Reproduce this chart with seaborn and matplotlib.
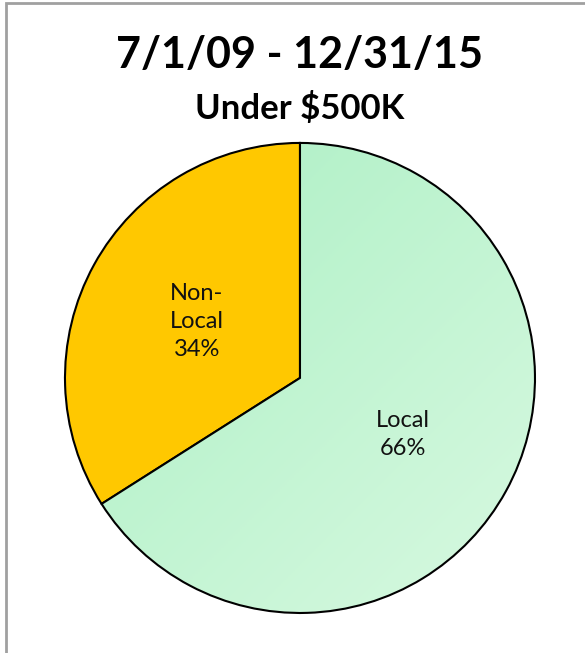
import numpy as np
import matplotlib
matplotlib.use("Agg")
import matplotlib.pyplot as plt
import seaborn as sns
from matplotlib.colors import LinearSegmentedColormap
from matplotlib.patches import Rectangle

# data
categories = ["Local", "Non-Local"]
shares = [66, 34]
slice_labels = ["Local", "Non-\nLocal"]
title_text = "7/1/09 - 12/31/15"
subtitle_text = "Under $500K"

sns.set_theme(style="white")
plt.rcParams["font.family"] = ["Lato", "DejaVu Sans"]

fig = plt.figure(figsize=(5.85, 6.53), dpi=100)
ax = fig.add_axes([0.1111, 0.0613, 0.8034, 0.7198])

label_iter = iter(slice_labels)
def fmt(pct):
    return f"{next(label_iter)}\n{pct:.0f}%"

wedges, _, autotexts = ax.pie(
    shares,
    colors=["#BDF4CE", "#FFC800"],
    startangle=90,
    counterclock=False,
    autopct=fmt,
    pctdistance=0.5,
    wedgeprops=dict(edgecolor="black", linewidth=1.5),
    textprops=dict(fontsize=17, color="#111111", linespacing=1.4),
)
ax.set_xlim(-1, 1)
ax.set_ylim(-1, 1)
ax.set_aspect("auto")

# light green gradient for Local slice (darker top-left, lighter bottom-right)
cmap = LinearSegmentedColormap.from_list("grn", ["#A9EFC2", "#D8F9E1"])
gx, gy = np.meshgrid(np.linspace(0, 1, 200), np.linspace(0, 1, 200))
grad = (gx + gy) / 2
img = ax.imshow(grad, cmap=cmap, extent=(-1, 1, -1, 1), origin="upper",
                aspect="auto", zorder=wedges[0].get_zorder() + 0.1)
img.set_clip_path(wedges[0])
wedges[0].set_facecolor("none")
wedges[0].set_zorder(img.get_zorder() + 0.1)
for t in autotexts:
    t.set_zorder(5)
ax.axis("off")

fig.text(0.5128, 0.916, title_text, ha="center", va="center",
         fontsize=31, fontweight="bold", color="black")
fig.text(0.5128, 0.834, subtitle_text, ha="center", va="center",
         fontsize=25, fontweight="bold", color="black")

fig.patches.append(Rectangle((6 / 585, -0.1), 1.2, 1.1 - 3 / 653,
                             transform=fig.transFigure, fill=False,
                             edgecolor="#A0A0A0", linewidth=2, clip_on=False))

fig.savefig("out.png", dpi=100)
